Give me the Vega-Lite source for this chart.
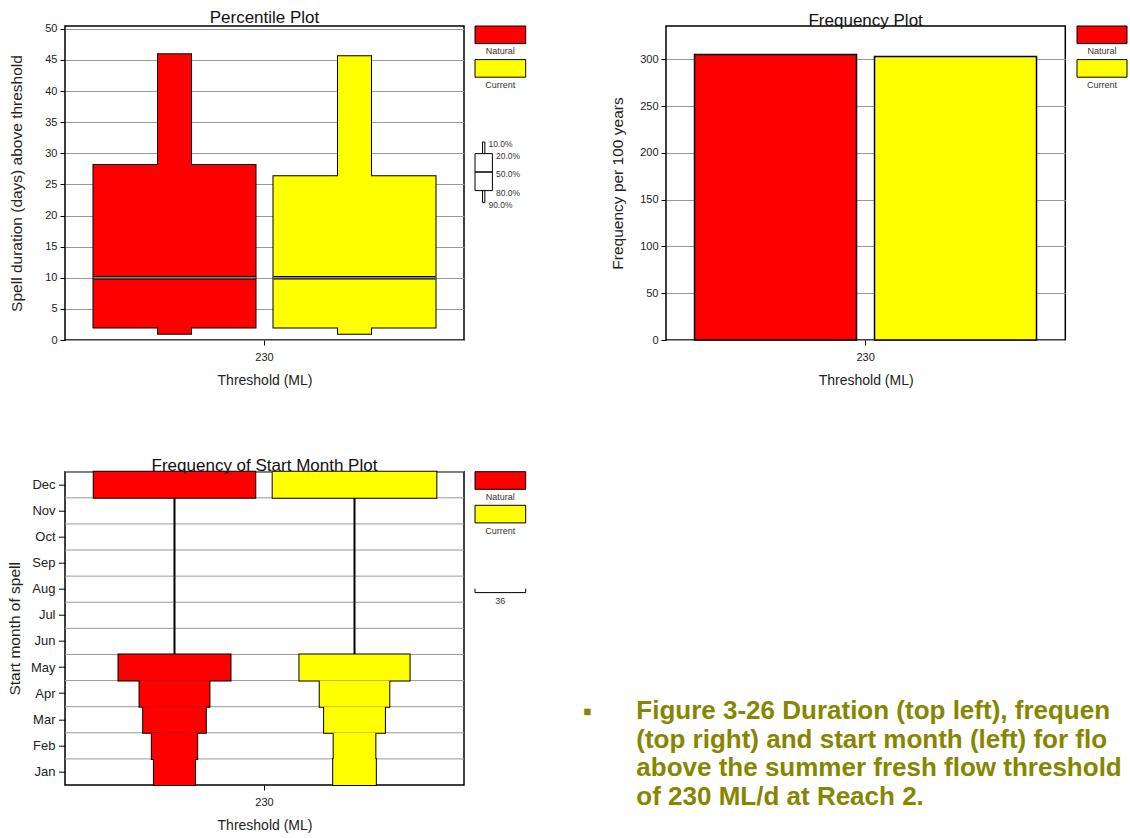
{
  "$schema": "https://vega.github.io/schema/vega-lite/v6.json",
  "background": "white",
  "padding": {"left": 6, "top": 8, "right": 0, "bottom": 0},
  "config": {
    "font": "Liberation Sans",
    "view": {"stroke": "black", "strokeWidth": 1.5},
    "axis": {
      "labelFont": "Liberation Sans", "labelFontSize": 11, "labelColor": "#222",
      "titleFont": "Liberation Sans", "titleFontSize": 14, "titleFontWeight": "normal", "titleColor": "#222",
      "tickColor": "black", "tickSize": 5, "tickWidth": 1, "domain": false,
      "gridColor": "#999", "gridWidth": 1, "labelPadding": 3
    },
    "axisX": {"labelPadding": 6, "titlePadding": 11, "labelAngle": 0},
    "axisY": {"titleFontSize": 15.5},
    "title": {"font": "Liberation Sans", "fontSize": 17, "fontWeight": "normal", "color": "#111", "offset": -4, "anchor": "middle"}
  },
  "datasets": {
    "duration": [
      {"threshold": "230", "series": "Natural", "pct10": 45.9, "pct20": 28.1, "pct50": 10, "pct80": 2, "pct90": 1},
      {"threshold": "230", "series": "Current", "pct10": 45.6, "pct20": 26.3, "pct50": 10, "pct80": 2, "pct90": 1}
    ],
    "frequency": [
      {"threshold": "230", "series": "Natural", "freq": 305},
      {"threshold": "230", "series": "Current", "freq": 303}
    ],
    "months": [
      {"threshold": "230", "series": "Natural", "month": "Jan", "freq": 29.2},
      {"threshold": "230", "series": "Natural", "month": "Feb", "freq": 32.2},
      {"threshold": "230", "series": "Natural", "month": "Mar", "freq": 44.5},
      {"threshold": "230", "series": "Natural", "month": "Apr", "freq": 49.6},
      {"threshold": "230", "series": "Natural", "month": "May", "freq": 79.5},
      {"threshold": "230", "series": "Natural", "month": "Jun", "freq": 0},
      {"threshold": "230", "series": "Natural", "month": "Jul", "freq": 0},
      {"threshold": "230", "series": "Natural", "month": "Aug", "freq": 0},
      {"threshold": "230", "series": "Natural", "month": "Sep", "freq": 0},
      {"threshold": "230", "series": "Natural", "month": "Oct", "freq": 0},
      {"threshold": "230", "series": "Natural", "month": "Nov", "freq": 0},
      {"threshold": "230", "series": "Natural", "month": "Dec", "freq": 114.7},
      {"threshold": "230", "series": "Current", "month": "Jan", "freq": 30.3},
      {"threshold": "230", "series": "Current", "month": "Feb", "freq": 29.6},
      {"threshold": "230", "series": "Current", "month": "Mar", "freq": 43.2},
      {"threshold": "230", "series": "Current", "month": "Apr", "freq": 49.4},
      {"threshold": "230", "series": "Current", "month": "May", "freq": 78.2},
      {"threshold": "230", "series": "Current", "month": "Jun", "freq": 0},
      {"threshold": "230", "series": "Current", "month": "Jul", "freq": 0},
      {"threshold": "230", "series": "Current", "month": "Aug", "freq": 0},
      {"threshold": "230", "series": "Current", "month": "Sep", "freq": 0},
      {"threshold": "230", "series": "Current", "month": "Oct", "freq": 0},
      {"threshold": "230", "series": "Current", "month": "Nov", "freq": 0},
      {"threshold": "230", "series": "Current", "month": "Dec", "freq": 116.2}
    ],
    "series": [{"series": "Natural"}, {"series": "Current"}],
    "key": [{"p10": 10, "p20": 20, "p50": 50, "p80": 80, "p90": 90}],
    "keyOuterLabels": [{"pct": 10, "label": "10.0%"}, {"pct": 90, "label": "90.0%"}],
    "keyInnerLabels": [{"pct": 20, "label": "20.0%"}, {"pct": 50, "label": "50.0%"}, {"pct": 80, "label": "80.0%"}],
    "scalebar": [{"label": "36", "width": 36}],
    "caption": [
      {"line": 1, "text": "Figure 3-26 Duration (top left), frequency"},
      {"line": 2, "text": "(top right) and start month (left) for flows"},
      {"line": 3, "text": "above the summer fresh flow threshold"},
      {"line": 4, "text": "of 230 ML/d at Reach 2."}
    ],
    "bullet": [{"line": 1, "symbol": "▪"}]
  },
  "columns": 4,
  "align": "each",
  "bounds": "flush",
  "spacing": {"row": 131.7, "column": 11},
  "concat": [
    {
      "width": 399, "height": 314,
      "title": "Percentile Plot",
      "data": {"name": "duration"},
      "encoding": {
        "x": {"field": "threshold", "type": "nominal", "scale": {"paddingInner": 0, "paddingOuter": 0.0833}, "axis": {"title": "Threshold (ML)"}},
        "xOffset": {"field": "series", "type": "nominal", "scale": {"domain": ["Natural", "Current"], "paddingInner": 0.1, "paddingOuter": 0}},
        "color": {"field": "series", "type": "nominal", "scale": {"domain": ["Natural", "Current"], "range": ["#ff0000", "#ffff00"]}, "legend": null}
      },
      "layer": [
        {"mark": {"type": "bar", "width": 33, "stroke": "black", "strokeWidth": 2},
         "encoding": {
           "y": {"field": "pct10", "type": "quantitative", "title": "Spell duration (days) above threshold", "scale": {"domain": [0, 50.45], "nice": false}, "axis": {"values": [0, 5, 10, 15, 20, 25, 30, 35, 40, 45, 50], "titlePadding": 20}},
           "y2": {"field": "pct90"}}},
        {"mark": {"type": "bar", "stroke": "black", "strokeWidth": 2},
         "encoding": {"y": {"field": "pct20", "type": "quantitative", "title": "Spell duration (days) above threshold", "axis": {"values": [0, 5, 10, 15, 20, 25, 30, 35, 40, 45, 50], "titlePadding": 20}}, "y2": {"field": "pct80"}}},
        {"mark": {"type": "bar", "width": 33},
         "encoding": {"y": {"field": "pct10", "type": "quantitative", "title": "Spell duration (days) above threshold", "axis": {"values": [0, 5, 10, 15, 20, 25, 30, 35, 40, 45, 50], "titlePadding": 20}}, "y2": {"field": "pct90"}}},
        {"mark": {"type": "bar"},
         "encoding": {"y": {"field": "pct20", "type": "quantitative", "title": "Spell duration (days) above threshold", "axis": {"values": [0, 5, 10, 15, 20, 25, 30, 35, 40, 45, 50], "titlePadding": 20}}, "y2": {"field": "pct80"}}},
        {"mark": {"type": "bar", "stroke": "black", "strokeWidth": 3.5},
         "encoding": {"y": {"field": "pct50", "type": "quantitative", "title": "Spell duration (days) above threshold", "axis": {"values": [0, 5, 10, 15, 20, 25, 30, 35, 40, 45, 50], "titlePadding": 20}}, "y2": {"field": "pct50"}}},
        {"mark": {"type": "bar", "stroke": "#8a8a8a", "strokeWidth": 1.5},
         "encoding": {"y": {"field": "pct50", "type": "quantitative", "title": "Spell duration (days) above threshold", "axis": {"values": [0, 5, 10, 15, 20, 25, 30, 35, 40, 45, 50], "titlePadding": 20}}, "y2": {"field": "pct50"}}}
      ]
    },
    {
      "width": 179.7, "height": 314,
      "view": {"stroke": null},
      "layer": [
        {
          "data": {"name": "series"},
          "encoding": {
            "x": {"datum": "swatch", "type": "nominal", "scale": {"range": [0, 50.7], "paddingInner": 0, "paddingOuter": 0}, "axis": null},
            "y": {"field": "series", "type": "nominal", "scale": {"domain": ["Natural", "Current"], "range": [0, 67.2], "paddingInner": 0, "paddingOuter": 0}, "axis": null}
          },
          "layer": [
            {"mark": {"type": "bar", "height": 17.6, "baseline": "top", "stroke": "black", "strokeWidth": 1},
             "encoding": {"color": {"field": "series", "type": "nominal", "scale": {"domain": ["Natural", "Current"], "range": ["#ff0000", "#ffff00"]}, "legend": null}}},
            {"mark": {"type": "text", "fontSize": 9, "dy": 8.5, "color": "#333"},
             "encoding": {"text": {"field": "series"}}}
          ]
        },
        {
          "encoding": {
            "x": {"datum": "key", "type": "nominal", "scale": {"range": [0, 17.4], "paddingInner": 0, "paddingOuter": 0}, "axis": null}
          },
          "layer": [
            {"data": {"name": "key"}, "mark": {"type": "bar", "width": 2.3, "fill": "white", "stroke": "black", "strokeWidth": 1},
             "encoding": {"y": {"field": "p10", "type": "quantitative", "scale": {"domain": [10, 20, 50, 80, 90], "range": [116, 127.6, 146, 164.6, 176.6], "nice": false, "zero": false}, "axis": null}, "y2": {"field": "p90"}}},
            {"data": {"name": "key"}, "mark": {"type": "bar", "fill": "white", "stroke": "black", "strokeWidth": 1},
             "encoding": {"y": {"field": "p20", "type": "quantitative"}, "y2": {"field": "p80"}}},
            {"data": {"name": "key"}, "mark": {"type": "bar", "stroke": "black", "strokeWidth": 1},
             "encoding": {"y": {"field": "p50", "type": "quantitative"}, "y2": {"field": "p50"}}},
            {"data": {"name": "keyOuterLabels"}, "mark": {"type": "text", "align": "left", "baseline": "middle", "dx": 4.7, "dy": 2, "fontSize": 8.5, "color": "#333"},
             "encoding": {"y": {"field": "pct", "type": "quantitative"}, "text": {"field": "label"}}},
            {"data": {"name": "keyInnerLabels"}, "mark": {"type": "text", "align": "left", "baseline": "middle", "dx": 12.3, "dy": 2, "fontSize": 8.5, "color": "#333"},
             "encoding": {"y": {"field": "pct", "type": "quantitative"}, "text": {"field": "label"}}}
          ]
        }
      ],
      "resolve": {"scale": {"x": "independent", "y": "independent"}}
    },
    {
      "width": 399.3, "height": 314,
      "title": "Frequency Plot",
      "data": {"name": "frequency"},
      "mark": {"type": "bar", "stroke": "black", "strokeWidth": 1.5},
      "encoding": {
        "x": {"field": "threshold", "type": "nominal", "scale": {"paddingInner": 0, "paddingOuter": 0.0833}, "axis": {"title": "Threshold (ML)"}},
        "xOffset": {"field": "series", "type": "nominal", "scale": {"domain": ["Natural", "Current"], "paddingInner": 0.1, "paddingOuter": 0}},
        "y": {"field": "freq", "type": "quantitative", "title": "Frequency per 100 years", "scale": {"domain": [0, 335.5], "nice": false}, "axis": {"values": [0, 50, 100, 150, 200, 250, 300], "titlePadding": 14}},
        "color": {"field": "series", "type": "nominal", "scale": {"domain": ["Natural", "Current"], "range": ["#ff0000", "#ffff00"]}, "legend": null}
      }
    },
    {
      "width": 50, "height": 314,
      "view": {"stroke": null},
      "data": {"name": "series"},
      "encoding": {
        "x": {"datum": "swatch", "type": "nominal", "scale": {"paddingInner": 0, "paddingOuter": 0}, "axis": null},
        "y": {"field": "series", "type": "nominal", "scale": {"domain": ["Natural", "Current"], "range": [0, 67.2], "paddingInner": 0, "paddingOuter": 0}, "axis": null}
      },
      "layer": [
        {"mark": {"type": "bar", "height": 17.6, "baseline": "top", "stroke": "black", "strokeWidth": 1},
         "encoding": {"color": {"field": "series", "type": "nominal", "scale": {"domain": ["Natural", "Current"], "range": ["#ff0000", "#ffff00"]}, "legend": null}}},
        {"mark": {"type": "text", "fontSize": 9, "dy": 8.5, "color": "#333"},
         "encoding": {"text": {"field": "series"}}}
      ]
    },
    {
      "width": 399, "height": 313.3,
      "title": "Frequency of Start Month Plot",
      "data": {"name": "months"},
      "encoding": {
        "y": {"field": "month", "type": "nominal", "title": "Start month of spell",
              "scale": {"domain": ["Dec", "Nov", "Oct", "Sep", "Aug", "Jul", "Jun", "May", "Apr", "Mar", "Feb", "Jan"], "paddingInner": 0, "paddingOuter": 0},
              "axis": {"grid": false, "labelFontSize": 13, "tickSize": 6.5, "labelPadding": 3.5, "titlePadding": 8}}
      },
      "layer": [
        {"transform": [{"filter": "datum.series == 'Natural'"}],
         "mark": {"type": "rule", "color": "#999", "strokeWidth": 1},
         "encoding": {"y": {"field": "month", "type": "nominal", "bandPosition": 0, "title": "Start month of spell"}}},
        {"mark": {"type": "bar", "orient": "vertical", "stroke": "black", "strokeWidth": 2},
         "encoding": {
           "x": {"field": "threshold", "type": "nominal", "scale": {"paddingInner": 0, "paddingOuter": 0.0833}, "axis": {"title": "Threshold (ML)"}},
           "xOffset": {"field": "series", "type": "nominal", "scale": {"domain": ["Natural", "Current"], "paddingInner": 0.1, "paddingOuter": 0}},
           "size": {"field": "freq", "type": "quantitative", "scale": {"domain": [0, 36], "range": [0, 50.7]}, "legend": null},
           "color": {"field": "series", "type": "nominal", "scale": {"domain": ["Natural", "Current"], "range": ["#ff0000", "#ffff00"]}, "legend": null}
         }},
        {"mark": {"type": "bar", "orient": "vertical"},
         "encoding": {
           "x": {"field": "threshold", "type": "nominal"},
           "xOffset": {"field": "series", "type": "nominal"},
           "size": {"field": "freq", "type": "quantitative"},
           "color": {"field": "series", "type": "nominal"}
         }}
      ]
    },
    {
      "width": 179.7, "height": 313.3,
      "view": {"stroke": null},
      "layer": [
        {
          "data": {"name": "series"},
          "encoding": {
            "x": {"datum": "swatch", "type": "nominal", "scale": {"range": [0, 50.7], "paddingInner": 0, "paddingOuter": 0}, "axis": null},
            "y": {"field": "series", "type": "nominal", "scale": {"domain": ["Natural", "Current"], "range": [0, 67.2], "paddingInner": 0, "paddingOuter": 0}, "axis": null}
          },
          "layer": [
            {"mark": {"type": "bar", "height": 17.6, "baseline": "top", "stroke": "black", "strokeWidth": 1},
             "encoding": {"color": {"field": "series", "type": "nominal", "scale": {"domain": ["Natural", "Current"], "range": ["#ff0000", "#ffff00"]}, "legend": null}}},
            {"mark": {"type": "text", "fontSize": 9, "dy": 8.5, "color": "#333"},
             "encoding": {"text": {"field": "series"}}}
          ]
        },
        {
          "data": {"name": "scalebar"},
          "encoding": {
            "x": {"datum": "swatch", "type": "nominal", "scale": {"range": [0, 50.7], "paddingInner": 0, "paddingOuter": 0}, "axis": null},
            "y": {"field": "label", "type": "nominal", "scale": {"range": [108.9, 128.9], "paddingInner": 0, "paddingOuter": 0}, "axis": null}
          },
          "layer": [
            {"mark": {"type": "bar", "orient": "vertical", "height": 4, "fill": "transparent", "stroke": "black", "strokeWidth": 1, "strokeDash": [0, 50.7, 58.7, 0]},
             "encoding": {"size": {"field": "width", "type": "quantitative", "scale": {"domain": [0, 36], "range": [0, 50.7]}, "legend": null}}},
            {"mark": {"type": "text", "fontSize": 9, "dy": 10.7, "color": "#333"},
             "encoding": {"text": {"field": "label"}}}
          ]
        }
      ],
      "resolve": {"scale": {"x": "independent", "y": "independent"}}
    },
    {
      "width": 399.3, "height": 313.3,
      "view": {"stroke": null},
      "layer": [
        {"data": {"name": "caption"},
         "mark": {"type": "text", "align": "left", "baseline": "middle", "dx": -229.35, "font": "Liberation Sans", "fontWeight": "bold", "fontSize": 26, "color": "#868600", "limit": 495, "ellipsis": " "},
         "encoding": {
           "y": {"field": "line", "type": "quantitative", "scale": {"domain": [-7.407, 3.586], "reverse": true, "nice": false, "zero": false}, "axis": null},
           "text": {"field": "text"}}},
        {"data": {"name": "bullet"},
         "mark": {"type": "text", "align": "center", "baseline": "middle", "dx": -278.35, "dy": 1, "fontSize": 26, "color": "#868600"},
         "encoding": {
           "y": {"field": "line", "type": "quantitative"},
           "text": {"field": "symbol"}}}
      ]
    }
  ]
}
